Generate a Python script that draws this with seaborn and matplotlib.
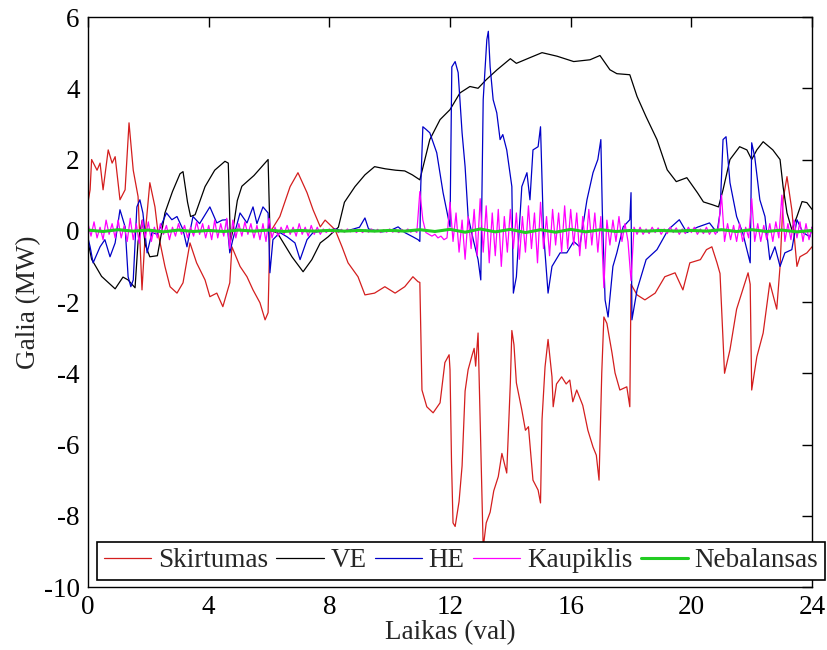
import numpy as np
import pandas as pd
import matplotlib
matplotlib.use("Agg")
import matplotlib.pyplot as plt
import seaborn as sns

# values: (time in hours, power in MW)
skirtumas = [
    (0, 0.8), (0.07, 1.15), (0.12, 2.0), (0.3, 1.7), (0.4, 1.9), (0.5, 1.15), (0.67, 2.27),
    (0.8, 1.9), (0.9, 2.08), (1.06, 0.87), (1.23, 1.15), (1.36, 3.03), (1.5, 1.7), (1.66, 0.96),
    (1.79, -1.66), (1.9, -0.05), (2.05, 1.35), (2.22, 0.67), (2.32, -0.05), (2.55, -1.0),
    (2.72, -1.57), (2.95, -1.75), (3.15, -1.46), (3.38, -0.34), (3.6, -0.9), (3.88, -1.38),
    (4.04, -1.85), (4.27, -1.75), (4.47, -2.13), (4.7, -1.46), (4.77, -0.45), (5.04, -1.0),
    (5.27, -1.29), (5.47, -1.66), (5.7, -2.02), (5.87, -2.5), (5.97, -2.3), (6.03, -0.05),
    (6.36, 0.4), (6.7, 1.24), (6.96, 1.63), (7.26, 1.07), (7.46, 0.59), (7.7, 0.11), (7.86, 0.3),
    (8.19, 0.03), (8.42, -0.45), (8.62, -0.9), (8.95, -1.29), (9.18, -1.8), (9.5, -1.75),
    (9.84, -1.57), (10.18, -1.75), (10.5, -1.57), (10.77, -1.29), (10.94, -1.43), (11.0, -1.45),
    (11.07, -4.47), (11.23, -4.94), (11.44, -5.11), (11.67, -4.83), (11.83, -3.7), (11.97, -3.48),
    (12.0, -3.9), (12.05, -6.5), (12.1, -8.2), (12.17, -8.3), (12.3, -7.6), (12.4, -6.6),
    (12.5, -4.5), (12.6, -3.9), (12.73, -3.5), (12.8, -3.3), (12.85, -3.8), (12.93, -2.87),
    (13.02, -6.0), (13.1, -8.9), (13.2, -8.2), (13.33, -7.9), (13.45, -7.3), (13.6, -6.9),
    (13.72, -6.25), (13.88, -6.8), (14.0, -4.27), (14.05, -2.8), (14.12, -3.2), (14.2, -4.27),
    (14.38, -5.03), (14.5, -5.6), (14.6, -5.5), (14.75, -7.0), (14.92, -7.28), (15.0, -7.64),
    (15.05, -5.3), (15.15, -3.82), (15.25, -3.05), (15.38, -4.1), (15.42, -4.94), (15.53, -4.3),
    (15.7, -4.1), (15.85, -4.3), (15.97, -4.19), (16.07, -4.8), (16.2, -4.47), (16.4, -4.9),
    (16.57, -5.6), (16.74, -6.07), (16.85, -6.3), (16.94, -7.0), (17.03, -3.99), (17.1, -2.42),
    (17.2, -2.6), (17.37, -3.43), (17.47, -3.99), (17.63, -4.47), (17.86, -4.38), (17.96, -4.94),
    (18.0, -1.5), (18.2, -1.8), (18.46, -1.94), (18.8, -1.75), (19.12, -1.29), (19.46, -1.18),
    (19.72, -1.66), (19.95, -0.9), (20.3, -0.81), (20.5, -0.53), (20.68, -0.45), (20.85, -0.9),
    (20.95, -1.2), (21.1, -4.0), (21.28, -3.34), (21.5, -2.2), (21.7, -1.66), (21.88, -1.18),
    (21.95, -1.5), (22.0, -4.47), (22.17, -3.54), (22.38, -2.87), (22.6, -1.46), (22.83, -2.2),
    (22.94, -1.0), (23.04, 0.87), (23.17, 1.52), (23.33, 0.59), (23.5, -1.0), (23.6, -0.73),
    (23.83, -0.62), (24.0, -0.45),
]

ve = [
    (0, -0.3), (0.12, -0.8), (0.45, -1.28), (0.9, -1.63), (1.16, -1.3), (1.33, -1.38),
    (1.56, -1.6), (1.66, -0.3), (1.8, 0.3), (1.9, -0.4), (2.05, -0.73), (2.3, -0.7), (2.45, 0.0),
    (2.55, 0.5), (2.8, 1.1), (3.05, 1.6), (3.15, 1.66), (3.3, 0.8), (3.4, 0.4), (3.55, 0.45),
    (3.88, 1.24), (4.2, 1.7), (4.54, 1.95), (4.65, 1.9), (4.72, -0.3), (4.8, 0.0), (4.95, 0.85),
    (5.1, 1.25), (5.5, 1.55), (5.97, 2.0), (6.03, 0.0), (6.27, -0.05), (6.76, -0.73),
    (7.13, -1.15), (7.42, -0.81), (7.7, -0.34), (7.96, -0.17), (8.3, 0.1), (8.5, 0.8),
    (8.85, 1.24), (9.18, 1.57), (9.5, 1.8), (9.85, 1.74), (10.2, 1.7), (10.5, 1.68),
    (10.75, 1.57), (11.0, 1.43), (11.33, 2.56), (11.67, 3.12), (12.0, 3.4), (12.33, 3.87),
    (12.66, 4.05), (12.93, 4.0), (13.2, 4.24), (13.56, 4.52), (14.0, 4.83), (14.2, 4.7),
    (14.65, 4.86), (15.05, 5.0), (15.55, 4.9), (16.1, 4.75), (16.64, 4.8), (16.97, 4.92),
    (17.3, 4.52), (17.53, 4.41), (17.96, 4.38), (18.2, 3.77), (18.5, 3.2), (18.86, 2.56),
    (19.2, 1.71), (19.5, 1.38), (19.85, 1.49), (20.2, 1.07), (20.4, 0.81), (20.7, 0.73),
    (20.9, 0.67), (21.05, 1.15), (21.28, 2.0), (21.6, 2.36), (21.84, 2.27), (22.0, 2.0),
    (22.17, 2.27), (22.38, 2.5), (22.7, 2.27), (22.94, 2.0), (23.04, 1.24), (23.17, 0.5),
    (23.33, 0.03), (23.5, 0.4), (23.67, 0.82), (23.83, 0.79), (24.0, 0.6),
]

he = [
    (0, -0.2), (0.07, -0.45), (0.17, -0.9), (0.4, -0.45), (0.56, -0.25), (0.73, -0.73),
    (0.9, -0.34), (1.06, 0.59), (1.23, 0.11), (1.33, -1.29), (1.42, -1.57), (1.5, -1.38),
    (1.62, 0.67), (1.72, 0.87), (1.82, 0.5), (1.96, -0.62), (2.12, -0.05), (2.3, -0.1),
    (2.6, 0.5), (2.78, 0.31), (2.95, 0.4), (3.15, 0.03), (3.28, -0.45), (3.48, 0.4), (3.7, 0.2),
    (4.04, 0.67), (4.27, 0.22), (4.45, 0.3), (4.6, 0.31), (4.7, -0.62), (4.8, -0.25),
    (5.04, 0.5), (5.27, 0.22), (5.47, 0.67), (5.6, 0.2), (5.8, 0.67), (5.97, 0.5), (6.03, -1.18),
    (6.13, -0.25), (6.36, -0.05), (6.6, -0.17), (6.86, -0.34), (6.96, -0.62), (7.03, -0.81),
    (7.26, -0.25), (7.46, -0.05), (7.8, 0.0), (8.2, 0.05), (8.5, -0.02), (8.8, 0.05), (9.0, 0.1),
    (9.18, 0.36), (9.3, 0.05), (9.74, -0.03), (10.0, 0.0), (10.28, 0.11), (10.5, -0.05),
    (10.77, -0.17), (10.94, -0.25), (11.0, -0.3), (11.03, 1.24), (11.1, 2.92), (11.2, 2.85),
    (11.33, 2.75), (11.56, 2.19), (11.77, 1.07), (11.93, 0.4), (12.0, 0.11), (12.06, 4.6),
    (12.17, 4.75), (12.27, 4.44), (12.4, 2.75), (12.5, 1.8), (12.6, 0.4), (12.77, -0.25),
    (12.93, -0.81), (13.02, -1.38), (13.1, 3.68), (13.22, 5.36), (13.27, 5.6), (13.33, 4.6),
    (13.43, 3.68), (13.55, 3.31), (13.66, 2.56), (13.75, 2.7), (13.88, 2.27), (14.05, 1.24),
    (14.1, -1.75), (14.2, -1.29), (14.38, 1.24), (14.55, 1.63), (14.65, 0.87), (14.75, 2.27),
    (14.92, 2.36), (15.0, 2.92), (15.1, -0.05), (15.25, -1.75), (15.38, -1.0), (15.65, -0.62),
    (15.87, -0.62), (16.1, -0.3), (16.3, -0.45), (16.4, 0.11), (16.54, 0.87), (16.74, 1.63),
    (16.9, 2.0), (17.0, 2.56), (17.05, 0.5), (17.14, -1.94), (17.24, -2.42), (17.4, -1.0),
    (17.53, -0.62), (17.74, 0.11), (17.96, 0.31), (18.0, 1.07), (18.03, -2.5), (18.2, -1.66),
    (18.5, -0.81), (18.86, -0.53), (19.23, 0.03), (19.6, 0.31), (19.85, -0.05), (20.2, 0.1),
    (20.6, 0.22), (20.85, -0.05), (20.95, 0.5), (21.05, 2.56), (21.15, 2.64), (21.28, 1.35),
    (21.5, 0.4), (21.7, -0.05), (21.95, -0.9), (22.0, 2.47), (22.1, 2.08), (22.27, 0.87),
    (22.44, 0.4), (22.6, -0.81), (22.77, -0.45), (22.94, -1.0), (23.1, -0.62), (23.33, -0.53),
    (23.5, 0.31), (23.7, -0.05), (23.93, -0.17), (24.0, 0.1),
]

# storage (Kaupiklis), read every 0.1 h
kaupiklis = [
    0.2, -0.15, 0.25, -0.2, 0.1, -0.25, 0.3, -0.1, 0.2, -0.2,
    0.3, -0.2, 0.15, -0.3, 0.35, -0.25, 0.2, -0.35, 0.3, -0.2,
    0.25, -0.3, 0.1, -0.2, 0.2, -0.1, 0.15, -0.25, 0.1, -0.15,
    0.2, -0.1, 0.15, -0.2, 0.1, -0.15, 0.25, -0.1, 0.2, -0.2,
    0.15, -0.25, 0.3, -0.2, 0.2, -0.15, 0.35, -0.5, 0.3, -0.2,
    0.2, -0.15, 0.25, -0.1, 0.2, -0.2, 0.15, -0.25, 0.2, -0.3,
    0.35, -0.2, 0.1, -0.15, 0.1, -0.1, 0.15, -0.1, 0.1, -0.15,
    0.2, -0.1, 0.1, -0.15, 0.15, -0.1, 0.1, -0.1, 0.05, -0.05,
    0.05, -0.05, 0.05, -0.05, 0.04, -0.04, 0.05, -0.03, 0.04, -0.05,
    0.04, -0.05, 0.03, -0.04, 0.05, -0.03, 0.04, -0.05, 0.03, -0.04,
    0.05, -0.04, 0.03, -0.05, 0.04, -0.03, 0.05, -0.04, 0.03, -0.05,
    1.1, 0.3, -0.05, -0.1, -0.15, -0.1, -0.2, -0.15, -0.25, -0.2,
    0.8, -0.3, 0.5, -0.6, 0.3, -0.8, 0.4, -0.5, 0.6, -0.7,
    0.9, -0.6, 0.7, -0.9, 0.5, -0.7, 0.6, -1.0, 0.4, -0.6,
    0.6, -0.5, 0.5, -0.8, 0.4, -0.6, 0.7, -0.5, 0.5, -0.9,
    0.8, -0.5, 0.4, -0.7, 0.6, -0.4, 0.5, -0.6, 0.7, -0.5,
    0.6, -0.4, 0.5, -0.7, 0.4, -0.5, 0.6, -0.4, 0.5, -0.6,
    0.4, -1.6, 0.3, -0.4, 0.3, -0.3, 0.4, -0.3, 0.2, -0.3,
    -1.4, 0.1, -0.1, 0.1, -0.1, 0.05, -0.08, 0.1, -0.05, 0.08,
    -0.1, 0.05, -0.08, 0.1, -0.05, 0.08, -0.1, 0.05, -0.08, 0.1,
    -0.05, 0.1, -0.1, 0.05, -0.08, 0.1, -0.1, 0.05, -0.1, 0.1,
    1.0, -0.3, 0.2, -0.25, 0.15, -0.3, 0.2, -0.3, 0.1, -0.2,
    0.9, -0.3, 0.2, -0.3, 0.15, -0.25, 0.2, -0.3, 0.25, -0.2,
    1.0, -0.3, 0.2, -0.25, 0.3, -0.2, 0.25, -0.3, 0.2, -0.25,
    0.1,
]

# imbalance (Nebalansas), read every 0.5 h
nebalansas = [
    0.02, -0.02, 0.03, -0.01, 0.02, -0.03, 0.02, -0.02, 0.01, -0.02,
    0.02, -0.01, 0.02, -0.02, 0.01, -0.01, 0.01, -0.01, 0.01, -0.01,
    0.01, -0.01, 0.03, -0.02, 0.04, -0.04, 0.05, -0.03, 0.04, -0.05,
    0.03, -0.04, 0.04, -0.03, 0.03, -0.02, 0.01, -0.01, 0.01, -0.01,
    0.01, -0.01, 0.03, -0.02, 0.03, -0.02, 0.02, -0.03, 0.01,
]

def to_df(pairs):
    return pd.DataFrame(pairs, columns=["t", "p"])

df_sk = to_df(skirtumas)
df_ve = to_df(ve)
df_he = to_df(he)
df_k = pd.DataFrame({"t": np.linspace(0, 24, len(kaupiklis)), "p": kaupiklis})
df_n = pd.DataFrame({"t": np.linspace(0, 24, len(nebalansas)), "p": nebalansas})

sns.set_style("white")
plt.rcParams['font.family'] = ['Liberation Serif', 'DejaVu Serif']
plt.rcParams['axes.unicode_minus'] = False

fig = plt.figure(figsize=(8.27, 6.5), dpi=100)
ax = fig.add_axes([0.1064, 0.0969, 0.8755, 0.8769])

sns.lineplot(data=df_sk, x="t", y="p", color="#d41e1e", lw=0.9, estimator=None, label="Skirtumas", ax=ax)
sns.lineplot(data=df_ve, x="t", y="p", color="black", lw=0.9, estimator=None, label="VE", ax=ax)
sns.lineplot(data=df_he, x="t", y="p", color="#0000c8", lw=0.9, estimator=None, label="HE", ax=ax)
sns.lineplot(data=df_k, x="t", y="p", color="#ff00ff", lw=0.9, estimator=None, label="Kaupiklis", ax=ax)
sns.lineplot(data=df_n, x="t", y="p", color="#22cc22", lw=2.2, estimator=None, label="Nebalansas", ax=ax)

ax.set_xlim(0, 24)
ax.set_ylim(-10, 6)
ax.set_xticks(range(0, 25, 4))
ax.set_yticks(range(-10, 7, 2))
ax.tick_params(direction="in", top=True, right=True, length=7, width=1,
               labelsize=19.5, colors="black", pad=6)
for s in ax.spines.values():
    s.set_color("black")
    s.set_linewidth(1)

ax.set_xlabel("Laikas (val)", fontsize=19.5, labelpad=0)
ax.set_ylabel("Galia (MW)", fontsize=19.5, labelpad=2)

leg = ax.legend(loc="lower left", bbox_to_anchor=(0.0124, 0.012), ncol=5, fontsize=19.5,
                frameon=True, fancybox=False, edgecolor="black", framealpha=1,
                handlelength=1.75, handletextpad=0.25, columnspacing=0.3,
                borderpad=0.25, borderaxespad=0)
leg.get_frame().set_linewidth(1.2)

fig.savefig("out.png", dpi=100)
